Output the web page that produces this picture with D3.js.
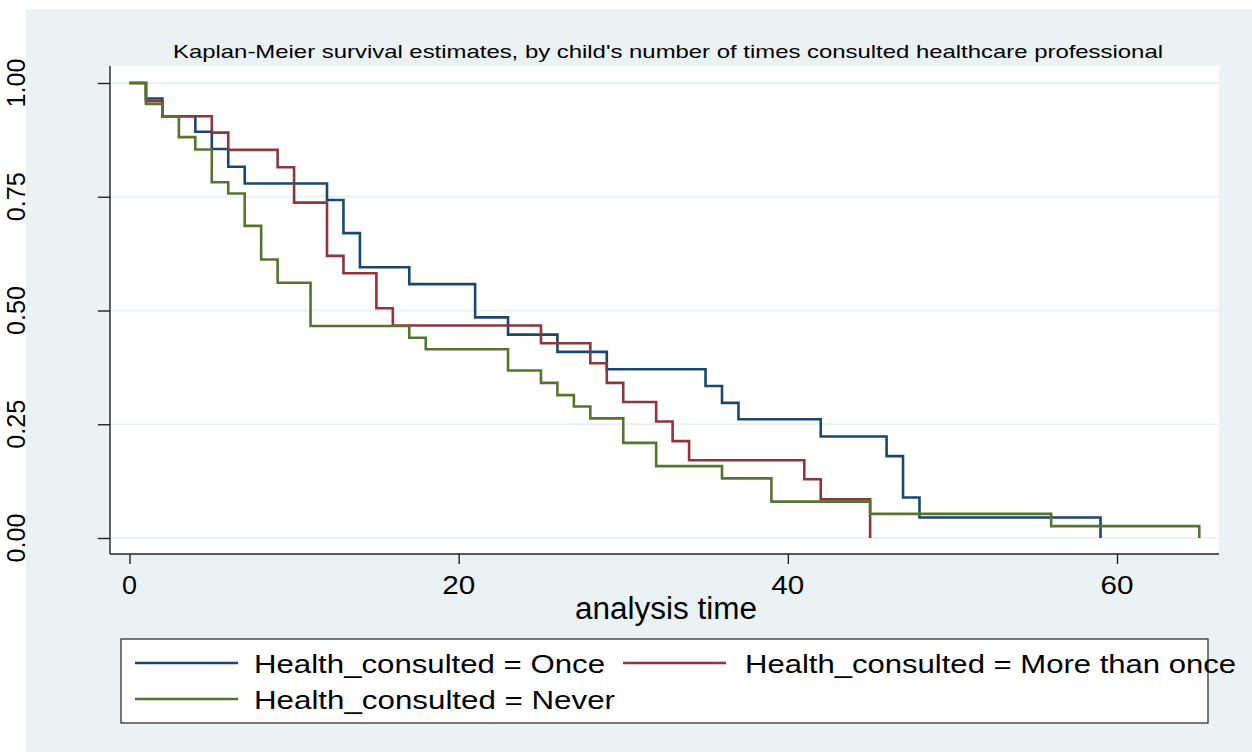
<!DOCTYPE html>
<html>
<head>
<meta charset="utf-8">
<script src="https://cdn.jsdelivr.net/npm/d3@7"></script>
<style>
body { margin: 0; background: #ffffff; }
text { font-family: "Liberation Sans", Arial, sans-serif; fill: #000; }
</style>
</head>
<body>
<div id="chart"></div>
<script>
var width = 1252,
    height = 752;

// Kaplan-Meier steps (time, survival)
var onceTime = [0, 1, 2, 4, 5, 6, 7, 12, 13, 14, 17, 21, 23, 26, 29, 35, 36, 37, 42, 46, 47, 48, 59];
var onceSurv = [1, .966, .927, .893, .855, .816, .779, .743, .670, .595, .558, .485, .447, .409, .371, .334, .297, .261, .223, .180, .089, .045, 0];

var moreTime = [0, 1, 2, 5, 6, 9, 10, 12, 13, 15, 16, 25, 28, 29, 30, 32, 33, 34, 41, 42, 45];
var moreSurv = [1, .960, .927, .891, .853, .815, .737, .620, .582, .505, .467, .428, .384, .341, .299, .256, .213, .171, .129, .085, 0];

var neverTime = [0, 1, 2, 3, 4, 5, 6, 7, 8, 9, 11, 17, 18, 23, 25, 26, 27, 28, 30, 32, 36, 39, 45, 56, 65];
var neverSurv = [1, .954, .926, .881, .854, .782, .757, .686, .612, .561, .466, .440, .415, .368, .341, .314, .289, .263, .209, .158, .131, .080, .053, .026, 0];

var xTicks = [0, 20, 40, 60];
var yTicks = [0, 0.25, 0.5, 0.75, 1];
var yTickLabels = ["0.00", "0.25", "0.50", "0.75", "1.00"];

var series = [
  {name: "Health_consulted = Once", time: onceTime, surv: onceSurv, color: "#1a476f"},
  {name: "Health_consulted = More than once", time: moreTime, surv: moreSurv, color: "#90353b"},
  {name: "Health_consulted = Never", time: neverTime, surv: neverSurv, color: "#55752f"}
];

var plotLeft = 110, plotRight = 1219, plotTop = 66, plotBottom = 554;

var x = d3.scaleLinear().domain([0, 60]).range([129.5, 1117]);
var y = d3.scaleLinear().domain([0, 1]).range([538, 83]);

var svg = d3.select("#chart").append("svg")
  .attr("width", width)
  .attr("height", height);

// graph region background
svg.append("rect")
  .attr("x", 26).attr("y", 9)
  .attr("width", width - 26).attr("height", height - 9)
  .style("fill", "#eaf2f3");

svg.append("rect")
  .attr("x", plotLeft).attr("y", plotTop)
  .attr("width", plotRight - plotLeft).attr("height", plotBottom - plotTop)
  .style("fill", "#ffffff");

// grid lines
svg.selectAll(".grid")
  .data(yTicks)
  .enter().append("line")
  .attr("class", "grid")
  .attr("x1", plotLeft).attr("x2", plotRight)
  .attr("y1", function(d) { return y(d); })
  .attr("y2", function(d) { return y(d); })
  .style("stroke", "#eaf2f3")
  .style("stroke-width", 2);

// the curves
var line = d3.line()
  .curve(d3.curveStepAfter)
  .x(function(d) { return x(d[0]); })
  .y(function(d) { return y(d[1]); });

svg.selectAll(".km")
  .data(series)
  .enter().append("path")
  .attr("class", "km")
  .attr("d", function(s) { return line(d3.zip(s.time, s.surv)); })
  .style("fill", "none")
  .style("stroke", function(s) { return s.color; })
  .style("stroke-width", 2.6);

// axes
var yAxis = d3.axisLeft(y).tickValues(yTicks).tickSize(12).tickFormat("");
var xAxis = d3.axisBottom(x).tickValues(xTicks).tickSize(10).tickFormat("");

var gy = svg.append("g").attr("transform", "translate(" + plotLeft + ",0)").call(yAxis);
gy.select(".domain").attr("d", "M0," + plotTop + "V" + plotBottom);
var gx = svg.append("g").attr("transform", "translate(0," + plotBottom + ")").call(xAxis);
gx.select(".domain").attr("d", "M" + plotLeft + ",0H" + plotRight);
svg.selectAll(".domain, .tick line").style("stroke", "#222").style("stroke-width", 1.4);

// y tick labels, rotated, hugging the left edge
svg.selectAll(".ylab")
  .data(yTicks)
  .enter().append("text")
  .attr("class", "ylab")
  .attr("transform", function(d) { return "translate(25," + y(d) + ") rotate(-90)"; })
  .attr("text-anchor", "middle")
  .attr("textLength", 49)
  .attr("lengthAdjust", "spacingAndGlyphs")
  .style("font-size", "26px")
  .text(function(d, i) { return yTickLabels[i]; });

svg.selectAll(".xlab")
  .data(xTicks)
  .enter().append("text")
  .attr("class", "xlab")
  .attr("x", function(d) { return x(d); })
  .attr("y", 594)
  .attr("text-anchor", "middle")
  .attr("textLength", function(d) { return d === 0 ? 15 : 33; })
  .attr("lengthAdjust", "spacingAndGlyphs")
  .style("font-size", "26px")
  .text(function(d) { return d; });

svg.append("text")
  .attr("x", 666).attr("y", 619)
  .attr("text-anchor", "middle")
  .attr("textLength", 182)
  .attr("lengthAdjust", "spacingAndGlyphs")
  .style("font-size", "31px")
  .text("analysis time");

svg.append("text")
  .attr("x", 668).attr("y", 58)
  .attr("text-anchor", "middle")
  .attr("textLength", 990)
  .attr("lengthAdjust", "spacingAndGlyphs")
  .style("font-size", "18.5px")
  .text("Kaplan-Meier survival estimates, by child's number of times consulted healthcare professional");

// legend
var legendPos = [
  {lx: 135, tx: 254, ly: 663, ty: 673, w: 351},
  {lx: 623, tx: 745, ly: 663, ty: 673, w: 491},
  {lx: 135, tx: 254, ly: 699, ty: 709, w: 361}
];

svg.append("rect")
  .attr("x", 121).attr("y", 639)
  .attr("width", 1087).attr("height", 84)
  .style("fill", "#ffffff")
  .style("stroke", "#222")
  .style("stroke-width", 1.2);

var items = svg.selectAll(".leg")
  .data(series)
  .enter().append("g")
  .attr("class", "leg");

items.append("line")
  .attr("x1", function(d, i) { return legendPos[i].lx; })
  .attr("x2", function(d, i) { return legendPos[i].lx + 103; })
  .attr("y1", function(d, i) { return legendPos[i].ly; })
  .attr("y2", function(d, i) { return legendPos[i].ly; })
  .style("stroke", function(d) { return d.color; })
  .style("stroke-width", 2.6);

items.append("text")
  .attr("x", function(d, i) { return legendPos[i].tx; })
  .attr("y", function(d, i) { return legendPos[i].ty; })
  .attr("textLength", function(d, i) { return legendPos[i].w; })
  .attr("lengthAdjust", "spacingAndGlyphs")
  .style("font-size", "25px")
  .text(function(d) { return d.name; });
</script>
</body>
</html>
